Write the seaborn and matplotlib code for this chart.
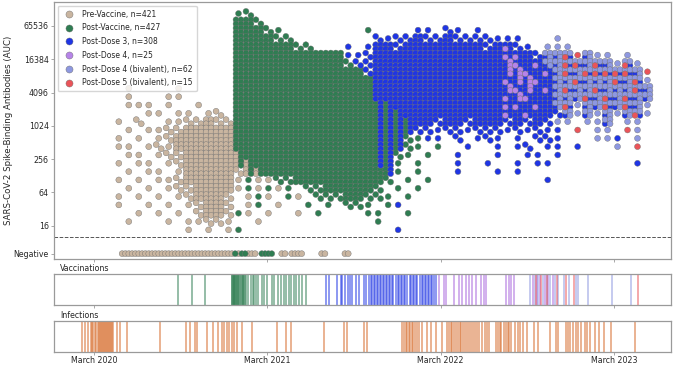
import matplotlib
matplotlib.use('Agg')
import numpy as np
import pandas as pd
import matplotlib.pyplot as plt
import matplotlib.dates as mdates
from matplotlib.ticker import NullLocator
import seaborn as sns

sns.set_style('ticks')
plt.rcParams['font.family'] = ['DejaVu Sans']

# groups shown in the legend, in drawing order
groups = ['Pre-Vaccine, n=421', 'Post-Vaccine, n=427', 'Post-Dose 3, n=308',
          'Post-Dose 4, n=25', 'Post-Dose 4 (bivalent), n=62', 'Post-Dose 5 (bivalent), n=15']
group_colors = ['#c9b5a0', '#2f7d52', '#1f35e4', '#b684e8', '#8e98e0', '#ea5459']

# antibody samples read off the chart as a density map:
# one column per 3 weeks starting 2019-12-08, one row per half log2 step (top row = 2^16.75)
map_start = '2019-12-08'
col_days = 21
row_top = 16.75
row_step = 0.5
map_rows = [
    "..................gh",
    "..................GGh",
    "..................GGGhg........g....bb.cb.b",
    "..................GGGGhh........cbccBccBccccbbb...l",
    "..................GGGGGGhh...b.bBBcBBBBBBBBcBXcb.lll",
    "..................GGGGGGGGGGGbbcBBBBBBBBBBBBBXXBcLLMrLll.l",
    "..................GGGGGGGGGGGhccBBBBBBBBBBBBBVXBXLLMMLMLlMl",
    "..................GGGGGGGGGGGGGcBBBBBBBBBBBBBVVXBXLMLMMMMMLr",
    "..................GGGGGGGGGGGGGGBBBBBBBBBBBBBXVVXBLLMLLLMLMl",
    ".......t....t.....GGGGGGGGGGGGGGBBBBBBBBBBBBBVXVBXLMLLMLLLML",
    ".......t...tt.....GGGGGGGGGGGGGGBBBBBBBBBBBBBXVXBBLLLMLMLMLL",
    ".......ttt.t..t...GGGGGGGGGGGGGGqqBBBBBBBBBBBXXBXBLMlLLMLMLl",
    ".........tt.tt.tu.GGGGGGGGGGGGGGqqqBBBBBBBBBBXBXBBcLlLlLlLMl",
    "......t.u..ttuuTuuGGGGGGGGGGGGGGqqqqBBcBBcBBBcBcBcll.llL.ll.",
    ".......t.ttuuTTTTTGGGGGGGGGGGGGGqqqqccbccbcccbcbcbb.r.ll.rl.",
    "......t.t.tuTTTTTTGGGGGGGGGGGGGGqqqhgbb.c.bcb.b.ccb...llb.l.",
    "......tt.tutTTTTTTGGGGGGGGGGGGGGqqqhg.g..b..b.bc.bb.b...l.r.",
    ".......tt.tuuTTTTTQGGGGGGGGGGGGGqqhg.g..b...b..bb.b",
    "......t.tt.tuTTTTTQQGGGGGGGGGGGGqqg.g...b..b..b.bb........b.",
    ".......t.tt.tTTTTTuQQGGGGGGGGGGGGqg.g...b...b.b...",
    "......t.t.ttuTTTTTtgtthhGGGGGGGGGh.g.g...........b",
    ".......t.t.tuuTTTTtgtgtg.hhGGGGGh.g.g...",
    "......t.t.t.tuTTTu.tgt.gt.hhhGGhhg.g....",
    "......t..t.t.tuTTu.tg.t..g.g.hhg.gb.....",
    "........t.t.t.uTTugt.t..t.g....gg..g....",
    ".......t...t.ttuut..t...........g.....",
    ".............t.t.tg...............b.....",
]
# what each map cell holds (group index per point)
cell_mix = {
    'T': '0000', 'u': '00', 't': '0',
    'G': '1111', 'h': '11', 'g': '1',
    'B': '2222', 'c': '22', 'b': '2',
    'q': '1212', 'Q': '0101',
    'X': '2232', 'V': '2323', 'v': '3',
    'L': '4424', 'M': '4452', 'l': '4', 'r': '5',
}

# samples below detection, one char per week from 2019-12-08
neg_weeks = ("...................." + "tttttttttttttttttttttttttttttttttt"
             + "gtggttt.gggg..tt.tttt.....tt.....tt")
neg_mix = {'t': 0, 'g': 1}
neg_auc = 5
detect_limit = 10

# vaccination / infection dates, days after 2020-03-01
event_base = '2020-03-01'
vacc_dose12 = [178, 207, 235, 290, 291, 292, 294, 295, 296, 298, 299, 300, 302, 303, 304, 306, 307,
               309, 311, 313, 315, 317, 319, 321, 325, 330, 334, 338, 342, 346, 353, 359, 365, 374,
               380, 388, 395, 401, 405, 411, 416, 422, 426, 432, 439, 447]
vacc_dose3 = [489, 495, 512, 521, 523, 529, 535, 539, 544, 552, 558, 569, 573, 579, 584, 586, 590,
              592, 596, 598, 602, 605, 609, 611, 615, 617, 621, 623, 628, 630, 636, 640, 642, 647,
              649, 653, 655, 659, 665, 667, 672, 674, 678, 680, 686, 691, 693, 697, 699, 703, 705,
              709, 712, 716, 720]
vacc_dose4 = [726, 737, 741, 758, 768, 775, 783, 789, 796, 804, 814, 821, 825, 867, 873, 879, 884,
              924, 932, 940, 949, 957, 966]
vacc_biv4 = [919, 928, 936, 945, 953, 961, 970, 978, 989, 1001, 1014, 1020, 1041, 1091, 1131]
vacc_dose5 = [930, 942, 955, 974, 995, 1010, 1145]
infections = [-25, -19, -13, -6, -4, -2, 2, 4, 8, 11, 13, 15, 17, 19, 21, 23, 25, 27, 29, 31, 34,
              36, 38, 40, 48, 55, 69, 139, 195, 202, 212, 218, 239, 250, 262, 269, 275, 281, 285,
              290, 296, 302, 311, 332, 386, 405, 416, 485, 527, 533, 569, 575, 649, 653, 657, 659,
              663, 665, 670, 672, 676, 680, 684, 691, 701, 709, 720, 733, 743, 747, 751, 753, 758,
              762, 766, 770, 772, 777, 781, 785, 789, 793, 798, 802, 806, 810, 817, 823, 827, 831,
              846, 850, 854, 858, 863, 867, 871, 875, 879, 886, 892, 898, 904, 911, 926, 936, 961,
              972, 978, 995, 999, 1003, 1008, 1014, 1020, 1026, 1033, 1039, 1045, 1056, 1064, 1073,
              1089, 1140]

tick_years = [2020, 2021, 2022, 2023]
ytick_vals = [neg_auc, 16, 64, 256, 1024, 4096, 16384, 65536]
ytick_labels = ['Negative', '16', '64', '256', '1024', '4096', '16384', '65536']

# ---- build the point table
slots = {1: [(0, 0)], 2: [(-.25, -.25), (.25, .25)],
         4: [(-.25, -.25), (.25, -.25), (-.25, .25), (.25, .25)]}
t0 = mdates.date2num(pd.Timestamp(map_start))
recs = []
for r, row in enumerate(map_rows):
    for c, ch in enumerate(row):
        if ch == '.':
            continue
        mix = cell_mix[ch]
        for (dx, dy), g in zip(slots[len(mix)], mix):
            recs.append((t0 + (c + 0.5 + dx) * col_days,
                         2 ** (row_top - (r + dy) * row_step), int(g)))
for w, ch in enumerate(neg_weeks):
    if ch != '.':
        recs.append((t0 + 7 * w + 3.5, neg_auc, neg_mix[ch]))
df = pd.DataFrame(recs, columns=['date', 'auc', 'g']).sort_values('g', kind='stable')
df['group'] = [groups[i] for i in df['g']]

eb = mdates.date2num(pd.Timestamp(event_base))
marches = [mdates.date2num(pd.Timestamp(f'{y}-03-01')) for y in tick_years]
xlim = (mdates.date2num(pd.Timestamp('2019-12-08')), mdates.date2num(pd.Timestamp('2023-06-29')))

fig = plt.figure(figsize=(6.73, 3.67), dpi=100)
ax = fig.add_axes([0.0802, 0.2943, 0.9168, 0.7003])
ax_v = fig.add_axes([0.0802, 0.1689, 0.9168, 0.0845])
ax_i = fig.add_axes([0.0802, 0.0409, 0.9168, 0.0845])

sns.scatterplot(data=df, x='date', y='auc', hue='group', hue_order=groups, palette=group_colors,
                s=18, edgecolor='#707070', linewidth=0.3, ax=ax)
ax.set_yscale('log', base=2)
ax.set_ylim(4, 178000)
ax.set_yticks(ytick_vals)
ax.set_yticklabels(ytick_labels)
ax.yaxis.set_minor_locator(NullLocator())
ax.axhline(detect_limit, color='#555555', ls='--', lw=0.7)
ax.set_ylabel('SARS-CoV-2 Spike-Binding Antibodies (AUC)', fontsize=6.2)
ax.yaxis.set_label_coords(-0.066, 0.5)
ax.set_xlabel('')
handles, labels = ax.get_legend_handles_labels()
ax.legend(handles, labels, loc='upper left', fontsize=5.5, markerscale=1.2, frameon=True,
          edgecolor='#cccccc', borderpad=0.5, labelspacing=0.62, handletextpad=0.7,
          bbox_to_anchor=(0.0, 1.0))

vacc_sets = [(vacc_dose12, group_colors[1]), (vacc_dose3, group_colors[2]),
             (vacc_dose4, '#a866dc'), (vacc_biv4, group_colors[4]), (vacc_dose5, group_colors[5])]
for days, col in vacc_sets:
    sns.rugplot(x=[eb + d for d in days], height=1, ax=ax_v, color=col, alpha=0.55,
                linewidth=1.3, expand_margins=False)
sns.rugplot(x=[eb + d for d in infections], height=1, ax=ax_i, color='#d66a28', alpha=0.55,
            linewidth=1.3, expand_margins=False)
ax_v.text(0.01, 1.04, 'Vaccinations', transform=ax_v.transAxes, fontsize=5.7, va='bottom')
ax_i.text(0.01, 1.04, 'Infections', transform=ax_i.transAxes, fontsize=5.7, va='bottom')

for a in (ax, ax_v, ax_i):
    a.set_xlim(*xlim)
    a.set_xticks(marches)
    a.set_xticklabels([])
    for s in a.spines.values():
        s.set_visible(True)
        s.set_color('#9a9a9a')
        s.set_linewidth(0.9)
    a.tick_params(labelsize=5.7, length=2.2, width=0.6, color='#9a9a9a', pad=1.5)
for a in (ax_v, ax_i):
    a.set_ylim(0, 1)
    a.set_yticks([])
    a.set_ylabel('')
ax_i.set_xticklabels([f'March {y}' for y in tick_years])
ax_i.tick_params(axis='x', pad=0.6)

fig.savefig('out.png', dpi=100)
